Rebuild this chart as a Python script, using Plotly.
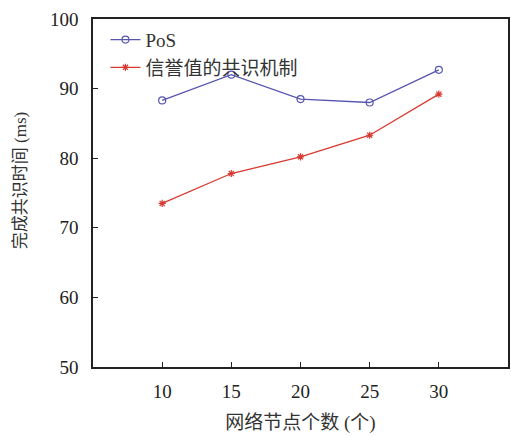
import plotly.graph_objects as go

nodes = [10, 15, 20, 25, 30]
pos_vals = [88.3, 92.0, 88.5, 88.0, 92.7]
rep_vals = [73.5, 77.8, 80.2, 83.3, 89.2]
series_names = ["PoS", "信誉值的共识机制"]
x_title = "网络节点个数 (个)"
y_title = "完成共识时间 (ms)"

serif = "Liberation Serif, Times New Roman, serif"
cjk = "Liberation Serif, Noto Sans CJK SC, serif"

fig = go.Figure()
fig.add_trace(go.Scatter(x=nodes, y=pos_vals, name=series_names[0], mode="lines+markers",
                         line=dict(color="#5656b0", width=1.3),
                         marker=dict(symbol="circle-open", size=7, color="#5656b0", line=dict(width=1.2))))
fig.add_trace(go.Scatter(x=nodes, y=rep_vals, name=series_names[1], mode="lines+markers",
                         line=dict(color="#d83a32", width=1.3),
                         marker=dict(symbol="asterisk-open", size=6, color="#d83a32", line=dict(width=1.2, color="#d83a32"))))

fig.update_layout(
    width=511, height=437,
    margin=dict(l=93, r=1, t=19, b=70),
    paper_bgcolor="white", plot_bgcolor="white",
    font=dict(family=cjk, size=17, color="#222"),
    legend=dict(x=0.03, y=0.995, xanchor="left", yanchor="top", bgcolor="rgba(0,0,0,0)",
                font=dict(family=cjk, size=19, color="#333"), tracegroupgap=0, itemwidth=30),
    showlegend=True,
    annotations=[dict(text=y_title, xref="paper", yref="paper", x=-0.175, y=0.535,
                      xanchor="center", yanchor="middle", textangle=-90, showarrow=False,
                      font=dict(family=cjk, size=17, color="#333"))],
)
fig.update_xaxes(range=[5, 35], tickvals=nodes, ticks="inside", ticklen=5, tickcolor="#222",
                 showline=True, linecolor="#222", linewidth=1.5, mirror=True, showgrid=False, zeroline=False,
                 tickfont=dict(family=serif, size=19, color="#222"), ticklabelstandoff=6,
                 title=dict(text=x_title, font=dict(family=cjk, size=19, color="#333"), standoff=15))
fig.update_yaxes(range=[50, 100], dtick=10, ticks="inside", ticklen=5, tickcolor="#222",
                 showline=True, linecolor="#222", linewidth=1.5, mirror=True, showgrid=False, zeroline=False,
                 tickfont=dict(family=serif, size=19, color="#222"), ticklabelstandoff=9)

fig.write_html("out.html")
